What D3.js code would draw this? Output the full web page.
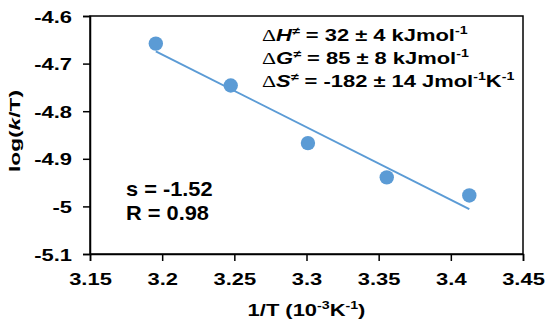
<!DOCTYPE html>
<html><head><meta charset="utf-8">
<script src="https://cdn.jsdelivr.net/npm/d3@7"></script>
<style>
html,body{margin:0;padding:0;background:#fff;}
text{font-family:"Liberation Sans",Arial,sans-serif;font-weight:bold;fill:#000;}
</style></head>
<body>
<svg id="chart" width="550" height="330"></svg>
<script>
const invT = [3.1956, 3.2475, 3.301, 3.3556, 3.4128];
const logKT = [-4.658, -4.746, -4.867, -4.939, -4.977];
const xTicks = [3.15, 3.2, 3.25, 3.3, 3.35, 3.4, 3.45];
const xTickLabels = ["3.15", "3.2", "3.25", "3.3", "3.35", "3.4", "3.45"];
const yTicks = [-4.6, -4.7, -4.8, -4.9, -5.0, -5.1];
const yTickLabels = ["-4.6", "-4.7", "-4.8", "-4.9", "-5", "-5.1"];

const svg = d3.select("#chart");
const L = 90, R = 523, T = 16, B = 254;
const SX = 1.29; // horizontal stretch of the reference lettering
const x = d3.scaleLinear().domain([3.15, 3.45]).range([L, R]);
const y = d3.scaleLinear().domain([-5.1, -4.6]).range([B, T]);
const blue = "#5B9BD5";

// frame
svg.append("rect").attr("x", L).attr("y", T).attr("width", R - L).attr("height", B - T)
  .attr("fill", "none").attr("stroke", "#000").attr("stroke-width", 1.5);

// axes
const xAxis = d3.axisBottom(x).tickValues(xTicks).tickSize(7).tickFormat((d, i) => xTickLabels[i]);
const gx = svg.append("g").attr("transform", `translate(0,${B})`).call(xAxis);
gx.attr("font-family", null).attr("font-size", null);
gx.select(".domain").attr("stroke-width", 1.5);
gx.selectAll(".tick line").attr("stroke-width", 1.5);
gx.selectAll(".tick text").attr("font-size", 17).attr("y", 0).attr("dy", null)
  .attr("transform", `translate(0,31) scale(${SX},1)`);

const yAxis = d3.axisLeft(y).tickValues(yTicks).tickSize(7).tickFormat((d, i) => yTickLabels[i]);
const gy = svg.append("g").attr("transform", `translate(${L},0)`).call(yAxis);
gy.attr("font-family", null).attr("font-size", null);
gy.select(".domain").attr("stroke-width", 1.5);
gy.selectAll(".tick line").attr("stroke-width", 1.5);
gy.selectAll(".tick text").attr("font-size", 17).attr("x", 0).attr("dy", "0.36em")
  .attr("transform", `translate(-18,0) scale(${SX},1)`);

// linear trendline (least squares, as in the spreadsheet trendline)
const mx = d3.mean(invT), my = d3.mean(logKT);
const sxy = d3.sum(invT, (v, i) => (v - mx) * (logKT[i] - my));
const sxx = d3.sum(invT, v => (v - mx) * (v - mx));
const slope = sxy / sxx, icpt = my - slope * mx;
const ext = d3.extent(invT);
svg.append("path")
  .datum(ext.map(v => [v, slope * v + icpt]))
  .attr("d", d3.line().x(d => x(d[0])).y(d => y(d[1])))
  .attr("stroke", blue).attr("stroke-width", 2).attr("fill", "none");

// points
svg.selectAll("circle.pt").data(invT).join("circle").attr("class", "pt")
  .attr("cx", d => x(d)).attr("cy", (d, i) => y(logKT[i])).attr("r", 7.2).attr("fill", blue);

function stext(px, py, size, anchor, sx) {
  return svg.append("text").attr("transform", `translate(${px},${py}) scale(${sx || SX},1)`)
    .attr("font-size", size).attr("text-anchor", anchor || "start");
}

// axis titles
const xt = stext((L + R) / 2, 316, 17, "middle");
xt.append("tspan").text("1/T (10");
xt.append("tspan").attr("font-size", 11).attr("dy", -7).text("-3");
xt.append("tspan").attr("dy", 7).text("K");
xt.append("tspan").attr("font-size", 11).attr("dy", -7).text("-1");
xt.append("tspan").attr("dy", 7).text(")");

const yt = svg.append("text").attr("transform", "translate(20,131) rotate(-90)")
  .attr("text-anchor", "middle").attr("font-size", 15).attr("textLength", 82).attr("lengthAdjust", "spacingAndGlyphs");
yt.append("tspan").text("log(");
yt.append("tspan").attr("font-style", "italic").text("k");
yt.append("tspan").text("/T)");

// annotations
function param(yb, sym, rest) {
  const t = stext(262, yb, 17);
  t.append("tspan").attr("font-family", "Liberation Serif").attr("font-weight", "normal").text("\u0394");
  t.append("tspan").attr("font-style", "italic").text(sym);
  t.append("tspan").attr("font-size", 11).attr("font-style", "italic").attr("dy", -6).text("\u2260");
  t.append("tspan").attr("dy", 6).text(rest[0]);
  for (let k = 1; k < rest.length; k += 2) {
    t.append("tspan").attr("font-size", 11).attr("dy", -7).text(rest[k]);
    t.append("tspan").attr("dy", 7).text(rest[k + 1] !== undefined ? rest[k + 1] : "");
  }
}
param(40.5, "H", [" = 32 \u00b1 4 kJmol", "-1"]);
param(63.5, "G", [" = 85 \u00b1 8 kJmol", "-1"]);
param(86.5, "S", [" = -182 \u00b1 14 Jmol", "-1", "K", "-1"]);

stext(126, 195.5, 20, "start", 1.09).text("s = -1.52");
stext(126, 220, 20, "start", 1.09).text("R = 0.98");
</script>
</body></html>
